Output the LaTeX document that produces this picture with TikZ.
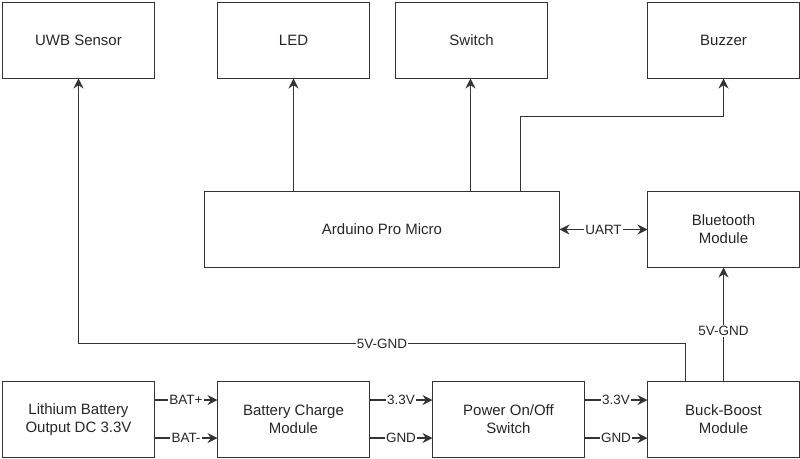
\documentclass[tikz,border=0pt]{standalone}
\usepackage{fontspec}
\setmainfont{Liberation Sans}
\usetikzlibrary{arrows.meta, positioning}

\tikzset{
	block/.style = {draw=black!80, line width=0.9pt, minimum width=114pt,
		minimum height=57pt, inner sep=2pt, outer sep=0pt, align=center,
		text=black!85, font=\fontsize{11.25}{13.5}\selectfont},
	flow/.style = {draw=black!80, line width=0.9pt, -{Stealth[length=7.5pt,width=7.5pt,inset=2.5pt]}},
	biflow/.style = {flow, {Stealth[length=7.5pt,width=7.5pt,inset=2.5pt]}-{Stealth[length=7.5pt,width=7.5pt,inset=2.5pt]}},
	lbl/.style = {fill=white, inner sep=1pt, text=black!85,
		font=\fontsize{10.1}{12}\selectfont}
}

\begin{document}
\begin{tikzpicture}[x=0.75pt, y=-0.75pt]
	\useasboundingbox (0,0) rectangle (800,459);
	% power chain
	\node (bat) [block] at (78.5,419.5) {Lithium Battery\\Output DC 3.3V};
	\node (chg) [block, right = 47.25pt of bat] {Battery Charge\\Module};
	\node (pwr) [block, right = 47.25pt of chg] {Power On/Off\\Switch};
	\node (buck) [block, right = 47.25pt of pwr] {Buck-Boost\\Module};
	% controller
	\node (blue) [block, above = 85.5pt of buck] {Bluetooth\\Module};
	\node (ard) [block, minimum width=266.25pt, left = 66pt of blue] {Arduino Pro Micro};
	% peripherals
	\node (uwb) [block, above = 227.25pt of bat] {UWB Sensor};
	\node (led) [block, above = 227.25pt of chg] {LED};
	\node (buzz) [block] at (uwb -| blue) {Buzzer};
	\node (sw) [block, left = 75pt of buzz] {Switch};
	\coordinate (bz) at ([xshift=104pt]ard.north);
	\coordinate (swin) at ([xshift=-0.75pt]sw.south);
	\path [every edge/.style={flow}]
	([yshift=14.6pt]bat.east) edge node[lbl] {BAT+} ([yshift=14.6pt]chg.west)
	([yshift=-13.9pt]bat.east) edge node[lbl] {BAT-} ([yshift=-13.9pt]chg.west)
	([yshift=14.6pt]chg.east) edge node[lbl] {3.3V} ([yshift=14.6pt]pwr.west)
	([yshift=-13.9pt]chg.east) edge node[lbl] {GND} ([yshift=-13.9pt]pwr.west)
	([yshift=14.6pt]pwr.east) edge node[lbl] {3.3V} ([yshift=14.6pt]buck.west)
	([yshift=-13.9pt]pwr.east) edge node[lbl] {GND} ([yshift=-13.9pt]buck.west)
	(buck) edge node[lbl, pos=0.44] {5V-GND} (blue);
	\draw [flow] (led.south |- ard.north) -- (led.south);
	\draw [flow] (swin |- ard.north) -- (swin);
	\draw [biflow] (ard) -- node[lbl] {UART} (blue);
	\draw [flow] (bz) |- ([yshift=-28.5pt]buzz.south) -- (buzz.south);
	\draw [flow] ([xshift=-28.5pt]buck.north) -- ++(0,-38)
		-| node[lbl, pos=0.25] {5V-GND} (uwb.south);
\end{tikzpicture}
\end{document}
